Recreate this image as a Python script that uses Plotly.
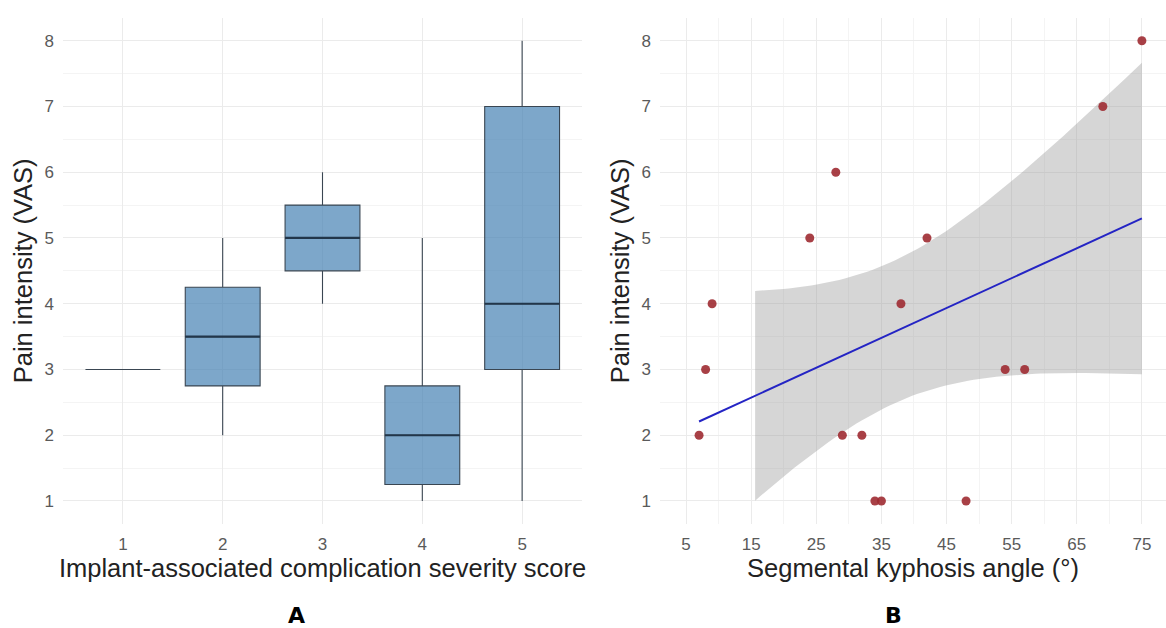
import numpy as np
import plotly.graph_objects as go

# ---------------- Data ----------------
# Panel A: box-plot summaries per severity score
severity = [1, 2, 3, 4, 5]
box_q1 = [3, 2.75, 4.5, 1.25, 3]
box_median = [3, 3.5, 5, 2, 4]
box_q3 = [3, 4.25, 5.5, 2.75, 7]
box_low = [3, 2, 4, 1, 1]
box_high = [3, 5, 6, 5, 8]

# Panel B: scatter data
kyphosis = [7, 8, 9, 24, 28, 29, 32, 34, 35, 38, 42, 48, 54, 57, 69, 75]
pain_vas = [2, 3, 4, 5, 6, 2, 2, 1, 1, 4, 5, 1, 3, 3, 7, 8]

y_ticks = [1, 2, 3, 4, 5, 6, 7, 8]
x2_ticks = [5, 15, 25, 35, 45, 55, 65, 75]

BOX_W = 0.75

# ---------------- Linear fit with 95% CI (as geom_smooth(method="lm")) ----------------
xk = np.array(kyphosis, dtype=float)
yk = np.array(pain_vas, dtype=float)
n = len(xk)
slope, intercept = np.polyfit(xk, yk, 1)
resid = yk - (intercept + slope * xk)
s = np.sqrt(np.sum(resid ** 2) / (n - 2))
sxx = np.sum((xk - xk.mean()) ** 2)
t_crit = 2.1448  # t(0.975, df=14)
xs = np.linspace(xk.min(), xk.max(), 80)
fit = intercept + slope * xs
se = s * np.sqrt(1.0 / n + (xs - xk.mean()) ** 2 / sxx)
lo = fit - t_crit * se
hi = fit + t_crit * se
# y-scale limits 1..8: ribbon rows out of limits are dropped
keep = (lo >= 1) & (hi <= 8)
xr = xs[keep]
lor = lo[keep]
hir = hi[keep]

# ---------------- Figure ----------------
fig = go.Figure()

fig.add_trace(go.Box(
    x=severity, q1=box_q1, median=box_median, q3=box_q3,
    lowerfence=box_low, upperfence=box_high,
    width=BOX_W,
    fillcolor="rgba(70,130,180,0.7)",
    line=dict(color="#3a4652", width=1.1),
    whiskerwidth=0,
    boxpoints=False,
    xaxis="x", yaxis="y",
    showlegend=False, hoverinfo="skip",
))

# thicker median segments (ggplot fatten) for boxes with a body
med_x, med_y = [], []
for c, m, a, b in zip(severity, box_median, box_q1, box_q3):
    if b > a:
        med_x += [c - BOX_W / 2, c + BOX_W / 2, None]
        med_y += [m, m, None]
fig.add_trace(go.Scatter(
    x=med_x, y=med_y, mode="lines",
    line=dict(color="#22364a", width=2.2),
    xaxis="x", yaxis="y", showlegend=False, hoverinfo="skip",
))

fig.add_trace(go.Scatter(
    x=np.concatenate([xr, xr[::-1]]),
    y=np.concatenate([hir, lor[::-1]]),
    fill="toself", fillcolor="rgba(153,153,153,0.4)",
    line=dict(width=0), mode="lines",
    xaxis="x2", yaxis="y2", showlegend=False, hoverinfo="skip",
))
fig.add_trace(go.Scatter(
    x=xs, y=fit, mode="lines",
    line=dict(color="#2424c4", width=2),
    xaxis="x2", yaxis="y2", showlegend=False, hoverinfo="skip",
))
fig.add_trace(go.Scatter(
    x=kyphosis, y=pain_vas, mode="markers",
    marker=dict(color="#9e2b32", size=9, opacity=0.9),
    xaxis="x2", yaxis="y2", showlegend=False, hoverinfo="skip",
))

W, H = 1166, 628
grid = "#ebebeb"
minor_grid = "#f4f4f4"
tick_font = dict(family="Liberation Sans, Arial, sans-serif", size=17, color="#5a5a5a")
title_font = dict(family="Liberation Sans, Arial, sans-serif", size=25.5, color="#222222")

y_dom = [104 / H, 610.3 / H]

common_y = dict(
    range=[0.65, 8.35], tickvals=y_ticks, showgrid=True, gridcolor=grid, gridwidth=1,
    zeroline=False, showline=False, ticks="", tickfont=tick_font,
    ticklabelstandoff=8,
    minor=dict(showgrid=True, gridcolor=minor_grid, gridwidth=1, dtick=0.5, tick0=0.5),
    title=dict(text="Pain intensity (VAS)", font=title_font, standoff=4),
    domain=y_dom,
)

fig.update_layout(
    width=W, height=H,
    margin=dict(l=0, r=0, t=0, b=0),
    paper_bgcolor="white", plot_bgcolor="white",
    xaxis=dict(
        domain=[63 / W, 582 / W], range=[0.4, 5.6], tickvals=severity,
        showgrid=True, gridcolor=grid, zeroline=False, showline=False, ticks="",
        tickfont=tick_font, ticklabelstandoff=8, anchor="y",
        title=dict(text="Implant-associated complication severity score", font=title_font, standoff=4),
    ),
    yaxis=dict(anchor="x", **common_y),
    xaxis2=dict(
        domain=[660 / W, 1.0], range=[1.0, 78.7], tickvals=x2_ticks,
        showgrid=True, gridcolor=grid, zeroline=False, showline=False, ticks="",
        tickfont=tick_font, ticklabelstandoff=8, anchor="y2",
        minor=dict(showgrid=True, gridcolor=minor_grid, gridwidth=1, dtick=10, tick0=0),
        title=dict(text="Segmental kyphosis angle (°)", font=title_font, standoff=4),
    ),
    yaxis2=dict(anchor="x2", **common_y),
    annotations=[
        dict(text="<b>A</b>", x=296 / W, y=13 / H, xref="paper", yref="paper",
             xanchor="center", yanchor="middle", showarrow=False,
             font=dict(family="DejaVu Sans, Verdana, sans-serif", size=22, color="black")),
        dict(text="<b>B</b>", x=893 / W, y=13 / H, xref="paper", yref="paper",
             xanchor="center", yanchor="middle", showarrow=False,
             font=dict(family="DejaVu Sans, Verdana, sans-serif", size=22, color="black")),
    ],
)

fig.write_html("out.html")
